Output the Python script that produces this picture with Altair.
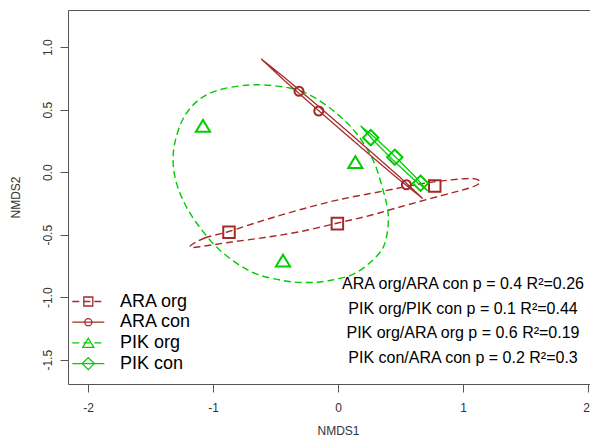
import altair as alt
import pandas as pd

groups = ["ARA org", "ARA con", "PIK org", "PIK con"]
group_colors = ["#A52A2A", "#A52A2A", "#00CD00", "#00CD00"]
ellipse_groups = [g + " ellipse" for g in groups]

# site scores (NMDS1, NMDS2)
ara_org_x = [-0.872, -0.005, 0.774]
ara_org_y = [-0.480, -0.411, -0.110]
ara_con_x = [-0.312, -0.154, 0.547]
ara_con_y = [0.648, 0.490, -0.100]
pik_org_x = [-1.080, 0.139, -0.440]
pik_org_y = [0.370, 0.080, -0.707]
pik_con_x = [0.262, 0.454, 0.660]
pik_con_y = [0.277, 0.120, -0.088]

# ellipse outlines
ara_org_ell_x = [-1.178, -1.066, -0.874, -0.586, -0.298, 0.014, 0.366, 0.654, 0.894, 1.070, 1.134,
                 1.118, 1.038, 0.814, 0.494, 0.254, -0.002, -0.298, -0.586, -0.850, -1.066, -1.162]
ara_org_ell_y = [-0.586, -0.526, -0.474, -0.382, -0.298, -0.218, -0.150, -0.094, -0.062, -0.050, -0.070,
                 -0.098, -0.130, -0.190, -0.278, -0.346, -0.406, -0.474, -0.522, -0.558, -0.590, -0.602]
pik_org_ell_x = [-0.706, -0.386, -0.202, -0.013, 0.147, 0.280, 0.360, 0.402, 0.382, 0.318, 0.142,
                 -0.066, -0.242, -0.442, -0.690, -0.938, -1.130, -1.253, -1.314, -1.306, -1.213, -1.026]
pik_org_ell_y = [0.698, 0.674, 0.605, 0.472, 0.312, 0.098, -0.142, -0.342, -0.542, -0.662, -0.806,
                 -0.866, -0.882, -0.866, -0.798, -0.630, -0.408, -0.195, 0.018, 0.232, 0.472, 0.632]
ara_con_ell_x = [-0.614, -0.414, -0.186, 0.041, 0.266, 0.490, 0.678, 0.478, 0.250, 0.023, -0.202, -0.426]
ara_con_ell_y = [0.906, 0.746, 0.553, 0.358, 0.162, -0.035, -0.210, -0.050, 0.143, 0.338, 0.534, 0.731]
pik_con_ell_x = [0.182, 0.298, 0.461, 0.619, 0.718, 0.602, 0.438, 0.280]
pik_con_ell_y = [0.370, 0.275, 0.122, -0.037, -0.150, -0.054, 0.099, 0.258]

# annotations
ann_text = ["ARA org/ARA con p = 0.4 R\u00b2=0.26",
            "PIK org/PIK con p = 0.1 R\u00b2=0.44",
            "PIK org/ARA org p = 0.6 R\u00b2=0.19",
            "PIK con/ARA con p = 0.2 R\u00b2=0.3"]
ann_x = [1.0, 1.0, 1.0, 1.0]
ann_y = [-0.894, -1.091, -1.288, -1.488]

x_ticks = [-2, -1, 0, 1, 2]
y_ticks = [-1.5, -1.0, -0.5, 0.0, 0.5, 1.0]

FONT = "Liberation Sans"

# marker glyphs (unit square -1..1 scaled by sqrt(size)/2)
marker_paths = [
    "M-0.56,-0.56H0.56V0.56H-0.56Z",
    "M0.44,0C0.44,0.243,0.243,0.44,0,0.44C-0.243,0.44,-0.44,0.243,-0.44,0"
    "C-0.44,-0.243,-0.243,-0.44,0,-0.44C0.243,-0.44,0.44,-0.243,0.44,0Z",
    "M0,-0.58L0.69,0.56H-0.69Z",
    "M0,-0.75L0.75,0L0,0.75L-0.75,0Z",
]
dash_styles = [[7, 4], [1, 0], [7, 4], [1, 0]]

axis_common = dict(grid=False, domain=True, domainColor="#555", domainWidth=1, ticks=True,
                   tickColor="#555", tickSize=8, tickWidth=1,
                   labelFont=FONT, labelFontSize=12, labelColor="#333", labelOverlap=False,
                   labelFlush=False, titleFont=FONT, titleFontSize=12, titleColor="#333",
                   titleFontWeight="normal")

x_scale = alt.Scale(domain=[-2.16, 2.016], nice=False, zero=False)
y_scale = alt.Scale(domain=[-1.694, 1.298], nice=False, zero=False)

x_enc = alt.X("x:Q", title="NMDS1", scale=x_scale,
              axis=alt.Axis(values=x_ticks, labelPadding=10,
                            labelOffset=alt.condition("datum.value == 2", alt.value(-2), alt.value(0)),
                            labelExpr="datum.value < 0 ? '-' + format(-datum.value, 'd') : format(datum.value, 'd')",
                            titleX=270, titleY=46, titleBaseline="middle", titleAlign="center",
                            **axis_common))
x_top_enc = alt.X("x:Q", scale=x_scale,
                  axis=alt.Axis(orient="top", title=None, labels=False, ticks=False, grid=False,
                                domain=True, domainColor="#555", domainWidth=1))
y_enc = alt.Y("y:Q", title="NMDS2", scale=y_scale,
              axis=alt.Axis(values=y_ticks, labelPadding=9, labelAngle=270, labelAlign="center",
                            labelBaseline="alphabetic",
                            labelExpr="datum.value < 0 ? '-' + format(-datum.value, '.1f') : format(datum.value, '.1f')",
                            titleX=-53, titleY=187, titleAngle=270, titleBaseline="middle",
                            titleAlign="center", **axis_common))

leg_common = dict(title=None, orient="none", legendX=11.3, legendY=282.5, padding=0,
                  symbolSize=256, symbolStrokeWidth=1.3, labelFont=FONT, labelFontSize=18,
                  labelOffset=22.7, rowPadding=2.7, labelLimit=300)
line_leg = alt.Legend(symbolType="M-2,0H2", labelExpr="''", **leg_common)
point_leg = alt.Legend(labelColor="black", **leg_common)

stroke_enc = alt.Stroke("grp:N", scale=alt.Scale(domain=ellipse_groups, range=group_colors), legend=line_leg)
dash_enc = alt.StrokeDash("grp:N", scale=alt.Scale(domain=ellipse_groups, range=dash_styles), legend=line_leg)


def outline(name, xs, ys):
    return pd.DataFrame({"grp": name + " ellipse", "x": xs, "y": ys, "i": list(range(len(xs)))})


def pts(name, xs, ys):
    return pd.DataFrame({"group": name, "x": xs, "y": ys})


org_ell = pd.concat([outline("ARA org", ara_org_ell_x, ara_org_ell_y),
                     outline("PIK org", pik_org_ell_x, pik_org_ell_y)])
con_ell = pd.concat([outline("ARA con", ara_con_ell_x, ara_con_ell_y),
                     outline("PIK con", pik_con_ell_x, pik_con_ell_y)])

layer_org = alt.Chart(org_ell).mark_line(interpolate="cardinal-closed", strokeWidth=1.4).encode(
    x=x_enc, y=y_enc, stroke=stroke_enc, strokeDash=dash_enc, detail="grp:N", order="i:Q")
layer_con = alt.Chart(con_ell).mark_line(interpolate="linear-closed", strokeWidth=1.3).encode(
    x=x_enc, y=y_enc, stroke=stroke_enc, strokeDash=dash_enc, detail="grp:N", order="i:Q")

points_df = pd.concat([pts("ARA org", ara_org_x, ara_org_y),
                       pts("ARA con", ara_con_x, ara_con_y),
                       pts("PIK org", pik_org_x, pik_org_y),
                       pts("PIK con", pik_con_x, pik_con_y)])
layer_points = alt.Chart(points_df).mark_point(filled=False, size=422, strokeWidth=2, opacity=1).encode(
    x=x_enc, y=y_enc,
    color=alt.Color("group:N", scale=alt.Scale(domain=groups, range=group_colors), legend=point_leg),
    shape=alt.Shape("group:N", scale=alt.Scale(domain=groups, range=marker_paths), legend=point_leg),
)

ann_df = pd.DataFrame({"x": ann_x, "y": ann_y, "label": ann_text})
layer_text = alt.Chart(ann_df).mark_text(font=FONT, fontSize=16, color="black", align="center",
                                         baseline="middle").encode(x=x_top_enc, y=y_enc, text="label:N")

main = alt.layer(layer_org, layer_con, layer_points)

chart = alt.layer(main, layer_text).resolve_axis(x="independent").properties(
    width=522, height=374,
    autosize=alt.AutoSizeParams(type="none"),
    padding={"left": 60, "top": 2, "right": 0, "bottom": 53},
    background="white",
).configure_view(stroke=None)

chart.save("out.html", embed_options={"renderer": "svg", "actions": False})
